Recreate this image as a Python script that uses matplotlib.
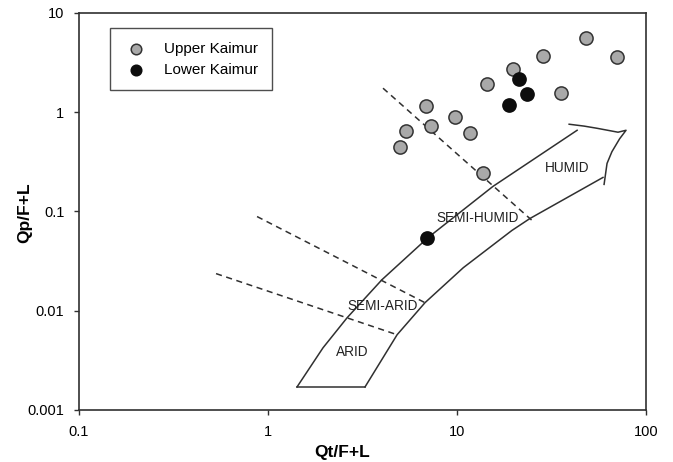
import numpy as np
import matplotlib
matplotlib.use("Agg")
from matplotlib import pyplot as plt

plt.rcParams.update({
    "font.family": ["Liberation Sans", "DejaVu Sans"],
    "font.size": 10.5,
})

# sample data
upper_qt = [48.2, 70.3, 28.5, 19.8, 14.4, 35.5, 6.85, 9.76, 7.28, 5.37, 11.7, 4.99, 13.7]
upper_qp = [5.59, 3.59, 3.68, 2.72, 1.92, 1.56, 1.15, 0.89, 0.723, 0.643, 0.614, 0.443, 0.242]
lower_qt = [21.3, 23.4, 18.8, 6.94]
lower_qp = [2.15, 1.52, 1.18, 0.0546]

# climate arrow outline
left_x = [1.424, 1.954, 2.62, 4.01, 7.03, 15.5, 43.2]
left_y = [0.001706, 0.00423, 0.00849, 0.02056, 0.0546, 0.179, 0.658]
right_x = [3.26, 4.82, 6.77, 10.8, 19.5, 24.3, 59.2]
right_y = [0.001706, 0.00573, 0.01205, 0.02716, 0.0643, 0.0849, 0.2203]
head_x = [39.2, 47.0, 55.1, 71.1, 78.4, 72.5, 66.0, 62.2, 60.0]
head_y = [0.757, 0.725, 0.689, 0.629, 0.658, 0.540, 0.400, 0.305, 0.1875]

# dashed zone boundaries (x0, x1), (y0, y1)
dash_x = [(4.06, 24.8), (0.875, 6.77), (0.531, 4.82)]
dash_y = [(1.746, 0.0820), (0.0889, 0.01205), (0.02366, 0.00573)]

zone_names = ["ARID", "SEMI-ARID", "SEMI-HUMID", "HUMID"]
zone_x = [2.78, 4.06, 12.8, 38.2]
zone_y = [0.00386, 0.0112, 0.0869, 0.2716]

x_ticks = [0.1, 1, 10, 100]
x_labels = ["0.1", "1", "10", "100"]
y_ticks = [0.001, 0.01, 0.1, 1, 10]
y_labels = ["0.001", "0.01", "0.1", "1", "10"]

line_col = "#303030"

fig = plt.figure(figsize=(6.73, 4.62), dpi=100)
ax = fig.add_axes([0.1174, 0.1126, 0.8425, 0.8593])
ax.set_xscale("log")
ax.set_yscale("log")
ax.set_xlim(0.1, 100)
ax.set_ylim(0.001, 10)

# arrow
ax.plot(left_x, left_y, color=line_col, lw=1.1)
ax.plot(right_x, right_y, color=line_col, lw=1.1)
ax.plot([left_x[0], right_x[0]], [left_y[0], right_y[0]], color=line_col, lw=1.1)
ax.plot(head_x, head_y, color=line_col, lw=1.1)

for xs, ys in zip(dash_x, dash_y):
    ax.plot(xs, ys, color=line_col, lw=1.1, ls=(0, (4, 3)))

for name, zx, zy in zip(zone_names, zone_x, zone_y):
    ax.text(zx, zy, name, ha="center", va="center", fontsize=9.8, color="#222222")

ax.scatter(upper_qt, upper_qp, s=90, facecolor="#a9a9a9", edgecolor="#333333",
           linewidth=1.1, zorder=5, label="Upper Kaimur")
ax.scatter(lower_qt, lower_qp, s=90, facecolor="#0d0d0d", edgecolor="#0d0d0d",
           linewidth=1.1, zorder=6, label="Lower Kaimur")

leg = ax.legend(loc="upper left", bbox_to_anchor=(0.055, 0.962), fontsize=11,
                frameon=True, fancybox=False, edgecolor="#222222", borderaxespad=0,
                markerscale=0.8, handletextpad=1.0, borderpad=0.9, labelspacing=0.45,
                handlelength=1.6)
leg.get_frame().set_linewidth(1.0)

ax.set_xticks(x_ticks)
ax.set_xticklabels(x_labels)
ax.set_yticks(y_ticks)
ax.set_yticklabels(y_labels)
ax.minorticks_off()
ax.tick_params(direction="out", length=3.6, width=1.0, color=line_col, pad=7,
               top=False, right=False)

for sp in ax.spines.values():
    sp.set_color(line_col)
    sp.set_linewidth(1.2)

ax.set_xlabel("Qt/F+L", fontweight="bold", fontsize=12.5)
ax.set_ylabel("Qp/F+L", fontweight="bold", fontsize=12.5)
ax.xaxis.set_label_coords(0.464, -0.088)
ax.yaxis.set_label_coords(-0.083, 0.496)

plt.savefig("out.png", dpi=100)
plt.close()
